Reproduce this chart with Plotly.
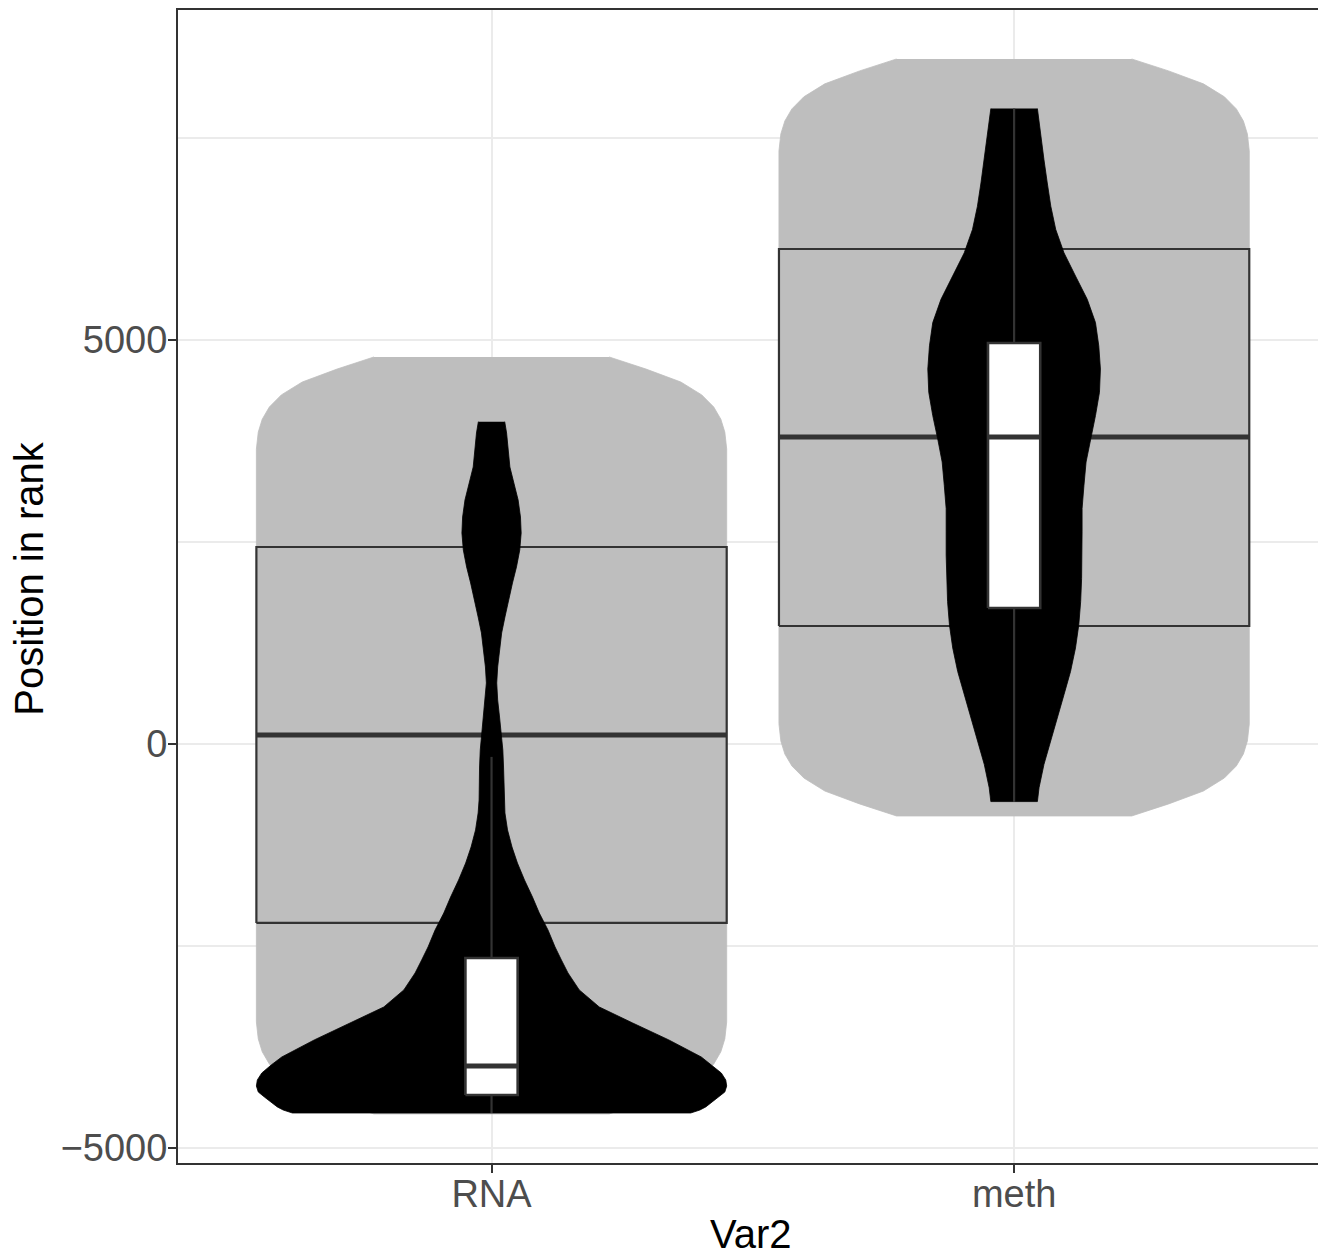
import plotly.graph_objects as go

# ---------------- data ----------------
categories = ["RNA", "meth"]

# grey (background) violins: rank position and relative density (1 = widest)
grey_rna_pos = [4790, 4640, 4480, 4320, 4170, 4020, 3860, 3650,
                -3440, -3650, -3810, -3960, -4110, -4270, -4430, -4579]
grey_rna_dens = [0.50, 0.657, 0.805, 0.894, 0.945, 0.975, 0.992, 1.0,
                 1.0, 0.992, 0.975, 0.945, 0.894, 0.805, 0.657, 0.50]
grey_meth_pos = [8478, 8330, 8170, 8010, 7860, 7710, 7550, 7340,
                 248, 37, -124, -272, -421, -582, -742, -891]
grey_meth_dens = [0.50, 0.657, 0.805, 0.894, 0.945, 0.975, 0.992, 1.0,
                  1.0, 0.992, 0.975, 0.945, 0.894, 0.805, 0.657, 0.50]

# grey boxes (quartiles)
grey_q1 = [-2215, 1460]
grey_med = [111, 3799]
grey_q3 = [2438, 6126]

# black (foreground) violins
black_rna_pos = [3989, 3849, 3428, 3230, 3020, 2809, 2611, 2401, 2191, 1993,
                 1782, 1572, 1374, 1163, 953, 755, 545, 334, 136, -74,
                 -285, -483, -693, -854, -1064, -1275, -1473, -1683, -1894, -2092,
                 -2302, -2512, -2673, -2834, -3044, -3255, -3453, -3663, -3874, -3973,
                 -4072, -4158, -4233, -4307, -4369, -4431, -4492, -4530, -4567]
black_rna_dens = [0.056, 0.064, 0.078, 0.095, 0.113, 0.123, 0.126, 0.120, 0.106, 0.089,
                  0.072, 0.057, 0.043, 0.033, 0.026, 0.022, 0.026, 0.034, 0.041, 0.048,
                  0.051, 0.053, 0.053, 0.057, 0.068, 0.087, 0.110, 0.140, 0.174, 0.203,
                  0.240, 0.270, 0.297, 0.325, 0.373, 0.458, 0.600, 0.754, 0.892, 0.937,
                  0.977, 0.996, 1.0, 0.992, 0.966, 0.941, 0.911, 0.886, 0.847]
black_meth_pos = [7864, 7518, 7230, 6943, 6655, 6367, 6079, 5792, 5503, 5215,
                  4928, 4641, 4353, 4064, 3777, 3490, 3202, 2913, 2625, 2339,
                  2049, 1762, 1474, 1188, 898, 610, 322, 37, -252, -541, -713]
black_meth_dens = [0.099, 0.113, 0.127, 0.141, 0.156, 0.177, 0.212, 0.261, 0.311, 0.346,
                   0.360, 0.367, 0.363, 0.346, 0.325, 0.306, 0.297, 0.289, 0.289, 0.289,
                   0.287, 0.283, 0.275, 0.261, 0.240, 0.212, 0.183, 0.156, 0.127, 0.106, 0.099]

# white boxes
white_q1 = [-4344, 1683]
white_med = [-3985, 3799]
white_q3 = [-2648, 4963]
white_lo = [-4567, -718]
white_hi = [-160, 7864]

y_ticks = [-5000, 0, 5000]
y_tick_text = ["\u22125000", "0", "5000"]
y_minor = [-2500, 2500, 7500]

# ---------------- styles ----------------
VIOLIN_HALF = 0.45
GREY_BOX_HALF = 0.45
WHITE_BOX_HALF = 0.05
GREY = "#BEBEBE"
LINE = "#333333"
FONT = "Liberation Sans, Arial, Helvetica, sans-serif"

fig = go.Figure()


def violin(center, pos, dens, color):
    x = [center + VIOLIN_HALF * d for d in dens] + [center - VIOLIN_HALF * d for d in dens[::-1]]
    y = list(pos) + list(pos[::-1])
    fig.add_trace(go.Scatter(x=x, y=y, mode="lines", fill="toself", fillcolor=color,
                             line=dict(color=color, width=0.8), hoverinfo="skip",
                             showlegend=False))


def box(center, half, q1, med, q3, fill, lw, mw):
    fig.add_trace(go.Scatter(x=[center - half, center + half, center + half, center - half, center - half],
                             y=[q1, q1, q3, q3, q1], mode="lines", fill="toself", fillcolor=fill,
                             line=dict(color=LINE, width=lw), hoverinfo="skip", showlegend=False))
    fig.add_trace(go.Scatter(x=[center - half, center + half], y=[med, med], mode="lines",
                             line=dict(color=LINE, width=mw), hoverinfo="skip", showlegend=False))


def whisker(center, a, b):
    fig.add_trace(go.Scatter(x=[center, center], y=[a, b], mode="lines",
                             line=dict(color=LINE, width=2.2), hoverinfo="skip", showlegend=False))


centers = [1, 2]
grey_sets = [(grey_rna_pos, grey_rna_dens), (grey_meth_pos, grey_meth_dens)]
black_sets = [(black_rna_pos, black_rna_dens), (black_meth_pos, black_meth_dens)]

for i, c in enumerate(centers):
    violin(c, grey_sets[i][0], grey_sets[i][1], GREY)
for i, c in enumerate(centers):
    box(c, GREY_BOX_HALF, grey_q1[i], grey_med[i], grey_q3[i], GREY, 2.2, 5)
for i, c in enumerate(centers):
    violin(c, black_sets[i][0], black_sets[i][1], "black")
for i, c in enumerate(centers):
    whisker(c, white_lo[i], white_q1[i])
    whisker(c, white_q3[i], white_hi[i])
    box(c, WHITE_BOX_HALF, white_q1[i], white_med[i], white_q3[i], "white", 2.6, 5)

fig.update_layout(
    width=1318, height=1248,
    margin=dict(l=170, r=0, t=2, b=93),
    paper_bgcolor="white", plot_bgcolor="white",
    font=dict(family=FONT),
    showlegend=False,
    xaxis=dict(range=[0.4, 2.593], tickmode="array", tickvals=centers, ticktext=categories,
               showgrid=True, gridcolor="#EBEBEB", gridwidth=2, zeroline=False,
               showline=True, linecolor=LINE, linewidth=2, mirror=True,
               ticks="outside", ticklen=8, tickwidth=2, tickcolor=LINE,
               tickfont=dict(size=38, color="#4D4D4D", family=FONT), ticklabelstandoff=-12),
    yaxis=dict(range=[-5186, 9084], tickmode="array", tickvals=y_ticks, ticktext=y_tick_text,
               showgrid=True, gridcolor="#EBEBEB", gridwidth=2, zeroline=False,
               minor=dict(tickvals=y_minor, showgrid=True, gridcolor="#EBEBEB", gridwidth=1.5, ticks=""),
               showline=True, linecolor=LINE, linewidth=2, mirror=True,
               ticks="outside", ticklen=8, tickwidth=2, tickcolor=LINE,
               tickfont=dict(size=38, color="#4D4D4D", family=FONT), ticklabelstandoff=-7),
    annotations=[
        dict(text="Var2", xref="paper", yref="paper", x=0.5, y=-0.0825, xanchor="center",
             yanchor="bottom", showarrow=False, font=dict(size=40, color="black", family=FONT)),
        dict(text="Position in rank", xref="paper", yref="paper", x=-0.1298, y=0.507,
             xanchor="center", yanchor="middle", textangle=-90, showarrow=False,
             font=dict(size=40, color="black", family=FONT)),
    ],
)

fig.write_html("out.html")
